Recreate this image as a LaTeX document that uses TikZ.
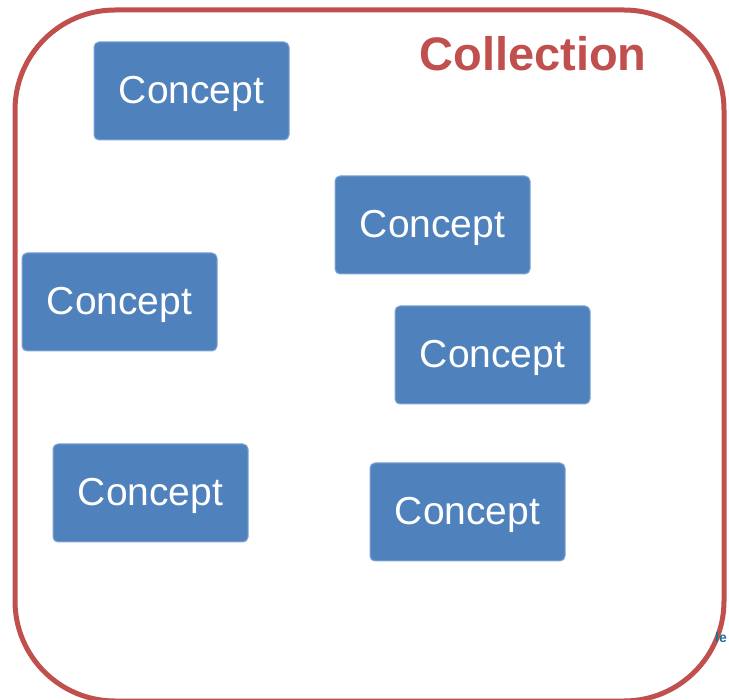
\documentclass[tikz,border=0pt]{standalone}
\usepackage{fontspec}
\setmainfont{Liberation Sans}
\definecolor{collred}{HTML}{C0504D}
\definecolor{conceptfill}{HTML}{4F81BD}
\definecolor{conceptedge}{HTML}{7FA3D3}
\definecolor{tealtxt}{HTML}{1F6E96}
\begin{document}
\begin{tikzpicture}[x=1pt,y=-1pt,
  conceptbox/.style={draw=conceptedge, line width=1pt, fill=conceptfill, rounded corners=5pt,
    minimum width=195pt, minimum height=98pt, inner sep=0pt, text=white,
    text height=26pt, text depth=0pt,
    font=\fontsize{39}{44}\selectfont},
  title/.style={text=collred, font=\fontsize{47}{52}\selectfont\bfseries, inner sep=0pt}]
\useasboundingbox (0,0) rectangle (729,700);
\draw[collred, line width=5pt, rounded corners=100pt] (15,10) rectangle (724,701);
\node[title] (title) at (533,54) {Collection};
\node[conceptbox] (c1) at (191.5,91) {Concept};
\node[conceptbox] (c2) at (432.5,225) {Concept};
\node[conceptbox] (c3) at (119.5,302) {Concept};
\node[conceptbox] (c4) at (492.5,355) {Concept};
\node[conceptbox] (c5) at (150.5,493) {Concept};
\node[conceptbox] (c6) at (467.5,512) {Concept};
\node[text=tealtxt, font=\fontsize{14}{16}\selectfont\bfseries, inner sep=0pt, anchor=west] (frag) at (715,637) {le};
\end{tikzpicture}
\end{document}
